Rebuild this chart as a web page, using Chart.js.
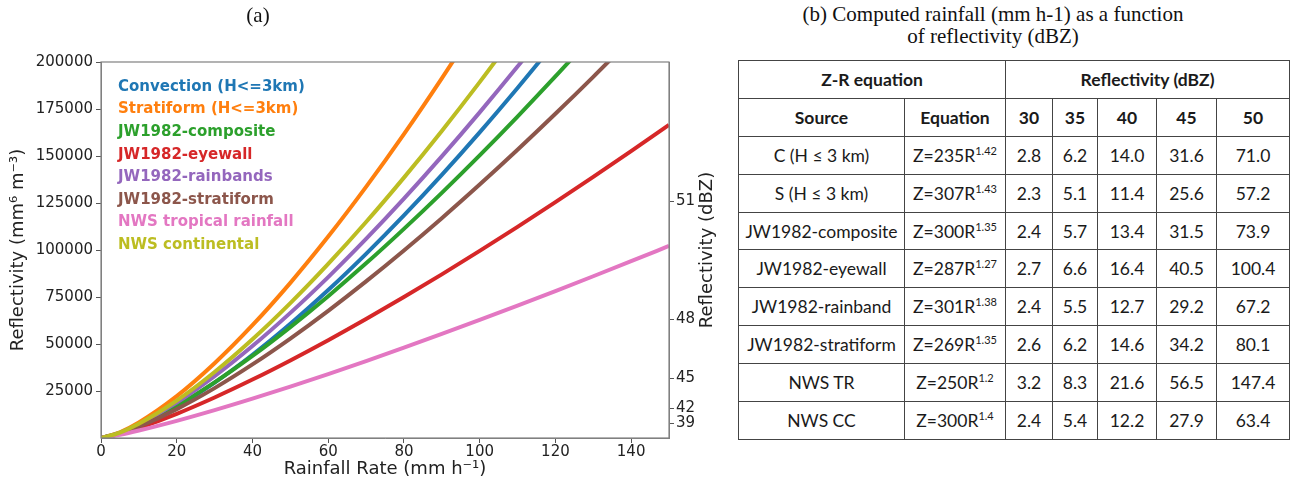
<!DOCTYPE html>
<html>
<head>
<meta charset="utf-8">
<script src="https://cdn.jsdelivr.net/npm/chart.js@4.4.1/dist/chart.umd.min.js"></script>
<style>
  body { margin: 0; background: #fff; width: 1290px; height: 486px; position: relative; overflow: hidden; }
  #chartBox { position: absolute; left: 0; top: 0; width: 730px; height: 486px; }
  .caption { position: absolute; font-family: 'Liberation Serif', 'Times New Roman', serif; font-size: 21px; color: #111; text-align: center; line-height: 22px; }
  #capA { left: 208px; width: 100px; top: 4px; }
  #capB { left: 773px; width: 440px; top: 3px; }
  #zrTable { position: absolute; left: 738px; top: 60px; border-collapse: collapse; table-layout: fixed; width: 551px;
    font-family: Lato, 'Open Sans', sans-serif; font-size: 17.5px; color: #1a1a1a; }
  #zrTable td, #zrTable th { border: 1.5px solid #444; text-align: center; padding: 0; white-space: nowrap; }
  #zrTable tr { height: 37.9px; }
  #zrTable th { font-weight: bold; }
  #zrTable sup { font-size: 11px; vertical-align: 7px; line-height: 0; }
</style>
</head>
<body>
<div id="chartBox"><canvas id="zrChart"></canvas></div>
<div class="caption" id="capA">(a)</div>
<div class="caption" id="capB">(b) Computed rainfall (mm h-1) as a function<br>of reflectivity (dBZ)</div>
<table id="zrTable"></table>

<script>
'use strict';

const rainRate = [0, 5, 10, 20, 30, 40, 50, 60, 70, 80, 90, 100, 110, 120, 130, 140, 150];

// reflectivity Z (mm^6 m^-3) for each curve, read at the rain rates above
const convection = [0, 2310, 6181, 16539, 29417, 44258, 60750, 78700, 97970, 118400, 139970, 162600, 186200, 210650];
const stratiform = [0, 3067, 8261, 22264, 39757, 59991, 82537, 107125, 133550, 161640, 191300, 222400];
const jwComposite = [0, 2635, 6716, 17120, 29595, 43641, 58985, 75440, 92890, 111250, 130420, 150350, 171000, 192320, 214270];
const jwEyewall = [0, 2216, 5344, 12888, 21569, 31082, 41264, 52016, 63266, 74956, 87050, 99514, 112320, 125440, 138860, 152570, 166540];
const jwRainbands = [0, 2774, 7220, 18793, 32884, 48912, 66550, 85580, 105870, 127300, 149770, 173210, 197560, 222760];
const jwStratiform = [0, 2363, 6022, 15352, 26537, 39131, 52891, 67645, 83290, 99745, 116934, 134823, 153330, 172456, 192120, 212350];
const nwsTropical = [0, 1725, 3962, 9103, 14808, 20913, 27333, 34019, 40932, 48044, 55339, 62797, 70406, 78150, 86034, 94037, 102150];
const nwsContinental = [0, 2855, 7536, 19886, 35083, 52480, 71726, 92586, 114880, 138510, 163330, 189290, 216320];

const seriesNames = ['Convection (H<=3km)', 'Stratiform (H<=3km)', 'JW1982-composite', 'JW1982-eyewall',
  'JW1982-rainbands', 'JW1982-stratiform', 'NWS tropical rainfall', 'NWS continental'];
const seriesValues = [convection, stratiform, jwComposite, jwEyewall, jwRainbands, jwStratiform, nwsTropical, nwsContinental];
const seriesColors = ['#1f77b4', '#ff7f0e', '#2ca02c', '#d62728', '#9467bd', '#8c564b', '#e377c2', '#bcbd22'];

// right axis ticks (dBZ)
const dbzTicks = [39, 42, 45, 48, 51];

// table (b)
const tableSources = ['C (H \u2264 3 km)', 'S (H \u2264 3 km)', 'JW1982-composite', 'JW1982-eyewall',
  'JW1982-rainband', 'JW1982-stratiform', 'NWS TR', 'NWS CC'];
const tableCoef = ['235', '307', '300', '287', '301', '269', '250', '300'];
const tableExp = ['1.42', '1.43', '1.35', '1.27', '1.38', '1.35', '1.2', '1.4'];
const tableDbz = ['30', '35', '40', '45', '50'];
const tableRain = [
  ['2.8', '6.2', '14.0', '31.6', '71.0'],
  ['2.3', '5.1', '11.4', '25.6', '57.2'],
  ['2.4', '5.7', '13.4', '31.5', '73.9'],
  ['2.7', '6.6', '16.4', '40.5', '100.4'],
  ['2.4', '5.5', '12.7', '29.2', '67.2'],
  ['2.6', '6.2', '14.6', '34.2', '80.1'],
  ['3.2', '8.3', '21.6', '56.5', '147.4'],
  ['2.4', '5.4', '12.2', '27.9', '63.4']
];
const colWidths = [166, 101, 47, 45, 59, 60, 73];

// ---- chart ----
Chart.defaults.font.family = '"DejaVu Sans", sans-serif';
Chart.defaults.color = '#222';

let datasets = [];
for (let i = 0; i < seriesValues.length; i++) {
  let pts = [];
  for (let j = 0; j < seriesValues[i].length; j++) {
    pts.push({ x: rainRate[j], y: seriesValues[i][j] });
  }
  datasets.push({
    label: seriesNames[i],
    data: pts,
    borderColor: seriesColors[i],
    backgroundColor: seriesColors[i],
    borderWidth: 4,
    pointRadius: 0,
    cubicInterpolationMode: 'monotone',
    clip: 0,
    order: seriesValues.length - i // later curves on top, like matplotlib
  });
}

// box around the plot, coloured text legend, and the right axis title (reads bottom to top)
const frameAndLegend = {
  id: 'frameAndLegend',
  afterDatasetsDraw(chart) {
    const { ctx, chartArea: a } = chart;
    ctx.save();
    ctx.strokeStyle = '#808080';
    ctx.lineWidth = 1.2;
    ctx.strokeRect(a.left, a.top, a.right - a.left, a.bottom - a.top);
    ctx.font = 'bold 15px "DejaVu Sans"';
    ctx.textBaseline = 'middle';
    chart.data.datasets.forEach((ds, i) => {
      ctx.fillStyle = ds.borderColor;
      ctx.fillText(ds.label, a.left + 17, a.top + 25 + i * 22.6);
    });
    ctx.restore();
  },
  afterDraw(chart) {
    const { ctx, chartArea: a } = chart;
    ctx.save();
    ctx.translate(a.right + 38, (a.top + a.bottom) / 2);
    ctx.rotate(-Math.PI / 2);
    ctx.font = '18px "DejaVu Sans"';
    ctx.fillStyle = '#222';
    ctx.textAlign = 'center';
    ctx.textBaseline = 'middle';
    ctx.fillText('Reflectivity (dBZ)', 0, 0);
    ctx.restore();
  }
};

const tickGrid = { drawOnChartArea: false, tickLength: 5, color: '#555', lineWidth: 1 };

new Chart(document.getElementById('zrChart'), {
  type: 'line',
  data: { datasets: datasets },
  options: {
    responsive: true,
    maintainAspectRatio: false,
    animation: false,
    layout: { padding: { top: 62, left: 0, right: 0, bottom: 0 } },
    plugins: { legend: { display: false }, tooltip: { enabled: false } },
    scales: {
      x: {
        type: 'linear',
        min: 0,
        max: 150,
        grid: tickGrid,
        border: { color: '#808080' },
        ticks: { stepSize: 20, includeBounds: false, padding: 0, font: { size: 15 }, maxRotation: 0 },
        title: { display: true, text: 'Rainfall Rate (mm h\u207B\u00B9)', font: { size: 18 }, padding: { top: 0, bottom: 6 } },
        afterFit: s => { s.height = 48; }
      },
      y: {
        type: 'linear',
        position: 'left',
        min: 0,
        max: 200000,
        grid: tickGrid,
        border: { color: '#808080' },
        ticks: { stepSize: 25000, padding: 3, font: { size: 15 }, callback: v => String(v) },
        afterBuildTicks: s => { s.ticks = s.ticks.filter(t => t.value > 0); },
        title: { display: true, text: 'Reflectivity (mm\u2076 m\u207B\u00B3)', font: { size: 18 }, padding: { top: 8, bottom: 0 } },
        afterFit: s => { s.width = 101; }
      },
      y2: {
        type: 'linear',
        position: 'right',
        min: 0,
        max: 200000,
        grid: tickGrid,
        border: { color: '#808080' },
        ticks: {
          autoSkip: false,
          padding: 2,
          font: { size: 15 },
          callback: v => String(Math.round(10 * Math.log10(v)))
        },
        afterBuildTicks: s => { s.ticks = dbzTicks.map(d => ({ value: Math.pow(10, d / 10) })); },
        afterFit: s => { s.width = 61; }
      }
    }
  },
  plugins: [frameAndLegend]
});

// ---- table ----
let table = document.getElementById('zrTable');
let html = '<colgroup>';
for (let i = 0; i < colWidths.length; i++) {
  html += '<col style="width:' + colWidths[i] + 'px">';
}
html += '</colgroup>';
html += '<tr><th colspan="2">Z-R equation</th><th colspan="5">Reflectivity (dBZ)</th></tr>';
html += '<tr><th>Source</th><th>Equation</th>';
for (let i = 0; i < tableDbz.length; i++) {
  html += '<th>' + tableDbz[i] + '</th>';
}
html += '</tr>';
for (let i = 0; i < tableSources.length; i++) {
  html += '<tr><td>' + tableSources[i] + '</td><td>Z=' + tableCoef[i] + 'R<sup>' + tableExp[i] + '</sup></td>';
  for (let j = 0; j < tableRain[i].length; j++) {
    html += '<td>' + tableRain[i][j] + '</td>';
  }
  html += '</tr>';
}
table.innerHTML = html;
</script>
</body>
</html>
